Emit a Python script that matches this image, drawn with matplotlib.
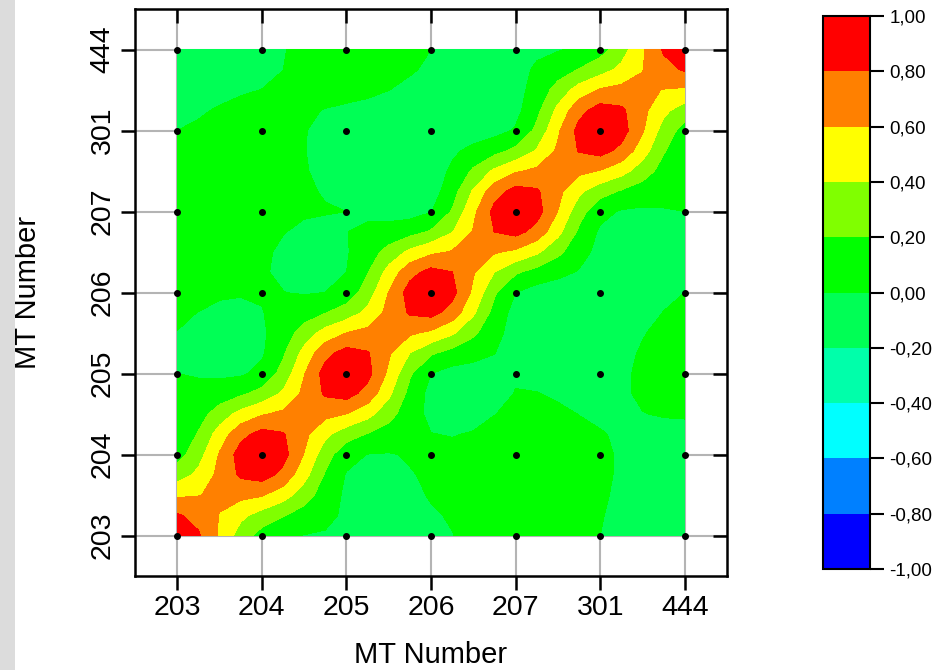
import matplotlib
matplotlib.use("Agg")
import matplotlib.pyplot as plt
import numpy as np
from matplotlib.patches import Rectangle
from matplotlib.ticker import FuncFormatter

plt.rcParams['font.family'] = ['Liberation Sans', 'DejaVu Sans']

# MT numbers on both axes
mt_labels = ["203", "204", "205", "206", "207", "301", "444"]

# correlation matrix, rows = y (203 at bottom), columns = x
corr = np.array([
    [1.00, 0.12, -0.02, -0.02, 0.06, 0.00, -0.05],   # 203
    [0.12, 1.00, 0.07, 0.03, 0.06, 0.01, -0.05],     # 204
    [0.00, 0.05, 1.00, 0.00, -0.01, -0.03, 0.06],    # 205
    [0.02, 0.01, 0.08, 1.00, 0.00, -0.05, 0.00],     # 206
    [0.08, 0.02, 0.00, -0.01, 1.00, 0.06, 0.00],     # 207
    [0.00, 0.04, -0.04, -0.06, 0.02, 1.00, 0.12],    # 301
    [-0.06, -0.04, 0.10, 0.00, -0.03, 0.12, 1.00],   # 444
])

levels = np.round(np.arange(-1.0, 1.01, 0.2), 2)
colors = ['#0000FF', '#0080FF', '#00FFFF', '#00FFAA', '#00FF55',
          '#00FF00', '#80FF00', '#FFFF00', '#FF8000', '#FF0000']


def kernel(d, a=-0.5):
    # cubic convolution kernel
    d = abs(d)
    if d <= 1:
        return (a + 2) * d**3 - (a + 3) * d**2 + 1
    if d < 2:
        return a * d**3 - 5 * a * d**2 + 8 * a * d - 4 * a
    return 0.0


def cubic_weights(n, factor):
    # weights that resample n nodes onto a finer grid
    t = np.linspace(0, n - 1, (n - 1) * factor + 1)
    w = np.zeros((len(t), n))
    for k, tk in enumerate(t):
        i = min(int(np.floor(tk)), n - 2)
        for off in range(-1, 3):
            w[k, min(max(i + off, 0), n - 1)] += kernel(tk - (i + off))
    return t, w


n = len(mt_labels)
tf, wf = cubic_weights(n, 4)
zf = np.clip(wf @ corr @ wf.T, -1.0, 1.0)
xf, yf = np.meshgrid(tf, tf)
gx, gy = np.meshgrid(np.arange(n), np.arange(n))

fig = plt.figure(figsize=(9.32, 6.70), dpi=100)
fig.add_artist(Rectangle((0, 0), 15 / 932, 1, transform=fig.transFigure,
                         facecolor='#DCDCDC', edgecolor='none'))

ax = fig.add_axes([135 / 932, 1 - 576 / 670, 592 / 932, 567 / 670])
ax.set_axisbelow(True)
ax.grid(True, color='#B4B4B4', linewidth=1.5)
cs = ax.contourf(xf, yf, zf, levels=levels, colors=colors, zorder=2)
ax.scatter(gx.ravel(), gy.ravel(), s=16, color='black', zorder=3, clip_on=False)

ax.set_xlim(-0.5, n - 0.5)
ax.set_ylim(-0.5, n - 0.5)
ax.set_xticks(np.arange(n))
ax.set_yticks(np.arange(n))
ax.set_xticklabels(mt_labels, fontsize=20.5)
ax.set_yticklabels(mt_labels, fontsize=20.5, rotation=90, va='center')
ax.tick_params(axis='both', which='major', direction='out', length=10,
               width=1.8, pad=4)
ax.tick_params(top=True, right=True)
for t in ax.xaxis.get_major_ticks():
    t.tick2line.set_marker(3)
    t.tick2line.set_markersize(10)
for t in ax.yaxis.get_major_ticks():
    t.tick2line.set_marker(0)
    t.tick2line.set_markersize(10)
for s in ax.spines.values():
    s.set_linewidth(1.8)
ax.set_xlabel("MT Number", fontsize=21, labelpad=14)
ax.set_ylabel("MT Number", fontsize=21, labelpad=34)

cax = fig.add_axes([823 / 932, 1 - 569 / 670, 47 / 932, 553 / 670])
cb = fig.colorbar(cs, cax=cax, ticks=levels)
cb.outline.set_linewidth(1.5)
cb.ax.yaxis.set_major_formatter(
    FuncFormatter(lambda v, p: f"{v + 0.0:.2f}".replace('.', ',').replace('-0,00', '0,00')))
cb.ax.tick_params(length=10, width=1.5, labelsize=13.5, pad=4)

fig.savefig("out.png", dpi=100)
